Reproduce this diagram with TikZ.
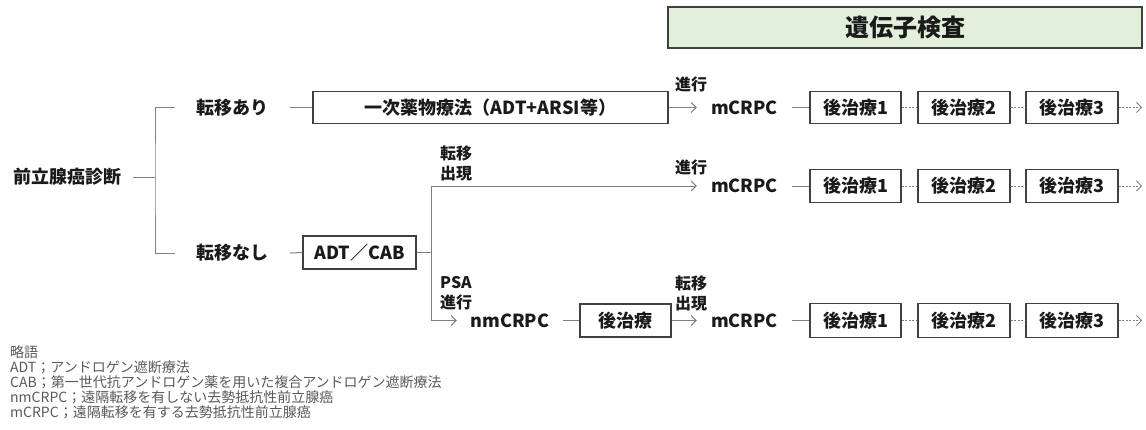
\documentclass[tikz,border=0pt]{standalone}
\usepackage{fontspec}
\setmainfont{Noto Sans CJK JP}
\usetikzlibrary{arrows.meta}
\definecolor{txt}{HTML}{1A1A1A}
\definecolor{bord}{HTML}{404040}
\definecolor{lin}{HTML}{808080}
\definecolor{gfill}{HTML}{E2EFDA}
\definecolor{legc}{HTML}{595959}
\begin{document}
\begin{tikzpicture}[x=1pt,y=-1pt,
  lbl/.style={font=\fontsize{18}{20}\selectfont\bfseries, text=txt, inner sep=0pt, minimum height=32pt},
  tbox/.style={draw=bord, line width=1.3pt, fill=white, font=\fontsize{18}{20}\selectfont\bfseries, text=txt, inner sep=0pt, minimum height=32pt},
  conn/.style={draw=lin, line width=1pt},
  arr/.style={conn, -{Straight Barb[length=5pt,width=10pt]}},
  dsh/.style={draw=lin, line width=0.8pt, dash pattern=on 2pt off 1.5pt},
  dsharr/.style={dsh, -{Straight Barb[length=5pt,width=10pt]}},
  note/.style={font=\fontsize{16}{20}\selectfont\bfseries, text=txt, align=left, inner sep=0pt, anchor=west}
]
\useasboundingbox (0,0) rectangle (1146,429);

% title
\node[draw=bord, line width=1.3pt, fill=gfill, minimum width=474pt, minimum height=41pt, inner sep=0pt,
  font=\fontsize{24}{26}\selectfont\bfseries, text=txt] (gt) at (905,27.5) {遺伝子検査};

% left part
\node[lbl, minimum width=132pt] (diag) at (67,177) {前立腺癌診断};
\node[lbl, minimum width=115pt] (yes) at (232.5,107.5) {転移あり};
\node[lbl, minimum width=115pt] (no) at (232.5,253) {転移なし};
\coordinate (k) at (155,177);
\draw[conn] (diag.east) -- (k);
\draw[conn] (yes.west) -| (k) |- (no.west);

% row 1
\node[tbox, minimum width=355pt] (prim) at (490.5,107.5) {一次薬物療法（ADT+ARSI等）};
\node[lbl, minimum width=95pt] (m1) at (744.5,107.5) {mCRPC};
\node[tbox, minimum width=91pt] (a1) at (855.5,107.5) {後治療1};
\node[tbox, minimum width=92pt] (b1) at (964,107.5) {後治療2};
\node[tbox, minimum width=92pt] (c1) at (1072,107.5) {後治療3};
\coordinate (e1) at (1142,107.5);
\draw[conn] (yes.east) -- (prim.west);
\draw[arr] (prim.east) -- (m1.west);
\draw[conn] (m1.east) -- (a1.west);
\draw[dsh] (a1.east) -- (b1.west);
\draw[dsh] (b1.east) -- (c1.west);
\draw[dsharr] (c1.east) -- (e1);
\node[note] (l1) at (675,84) {進行};

% ADT/CAB
\node[tbox, minimum width=113pt, minimum height=33pt] (adt) at (359.5,252.5) {ADT／CAB};
\coordinate (j) at (431.5,252.5);
\draw[conn] (no.east) -- (adt.west);
\draw[conn] (adt.east) -- (j);

% row 2
\node[lbl, minimum width=95pt] (m2) at (744.5,186) {mCRPC};
\node[tbox, minimum width=91pt, minimum height=33pt] (a2) at (855.5,186) {後治療1};
\node[tbox, minimum width=92pt, minimum height=33pt] (b2) at (964,186) {後治療2};
\node[tbox, minimum width=92pt, minimum height=33pt] (c2) at (1072,186) {後治療3};
\coordinate (e2) at (1142,186);
\draw[arr] (j) |- (m2.west);
\draw[conn] (m2.east) -- (a2.west);
\draw[dsh] (a2.east) -- (b2.west);
\draw[dsh] (b2.east) -- (c2.west);
\draw[dsharr] (c2.east) -- (e2);
\node[note] (l2) at (440,163) {転移\\出現};
\node[note] (l3) at (675,167) {進行};

% row 3
\node[lbl, minimum width=106pt] (nm) at (510,320.5) {nmCRPC};
\node[tbox, minimum width=91pt, minimum height=33pt] (pt) at (625.5,320.5) {後治療};
\node[lbl, minimum width=95pt] (m3) at (744.5,320.5) {mCRPC};
\node[tbox, minimum width=91pt, minimum height=34pt] (a3) at (855.5,320.5) {後治療1};
\node[tbox, minimum width=92pt, minimum height=34pt] (b3) at (964,320.5) {後治療2};
\node[tbox, minimum width=92pt, minimum height=34pt] (c3) at (1072,320.5) {後治療3};
\coordinate (e3) at (1142,320.5);
\draw[arr] (j) |- (nm.west);
\draw[conn] (nm.east) -- (pt.west);
\draw[arr] (pt.east) -- (m3.west);
\draw[conn] (m3.east) -- (a3.west);
\draw[dsh] (a3.east) -- (b3.west);
\draw[dsh] (b3.east) -- (c3.west);
\draw[dsharr] (c3.east) -- (e3);
\node[note] (l4) at (440,293) {PSA\\進行};
\node[note] (l5) at (675,293) {転移\\出現};

% legend
\node[anchor=north west, align=left, inner sep=0pt, font=\fontsize{14}{15}\selectfont, text=legc] (leg) at (10,345)
 {略語\\ADT；アンドロゲン遮断療法\\CAB；第一世代抗アンドロゲン薬を用いた複合アンドロゲン遮断療法\\nmCRPC；遠隔転移を有しない去勢抵抗性前立腺癌\\mCRPC；遠隔転移を有する去勢抵抗性前立腺癌};
\end{tikzpicture}
\end{document}
